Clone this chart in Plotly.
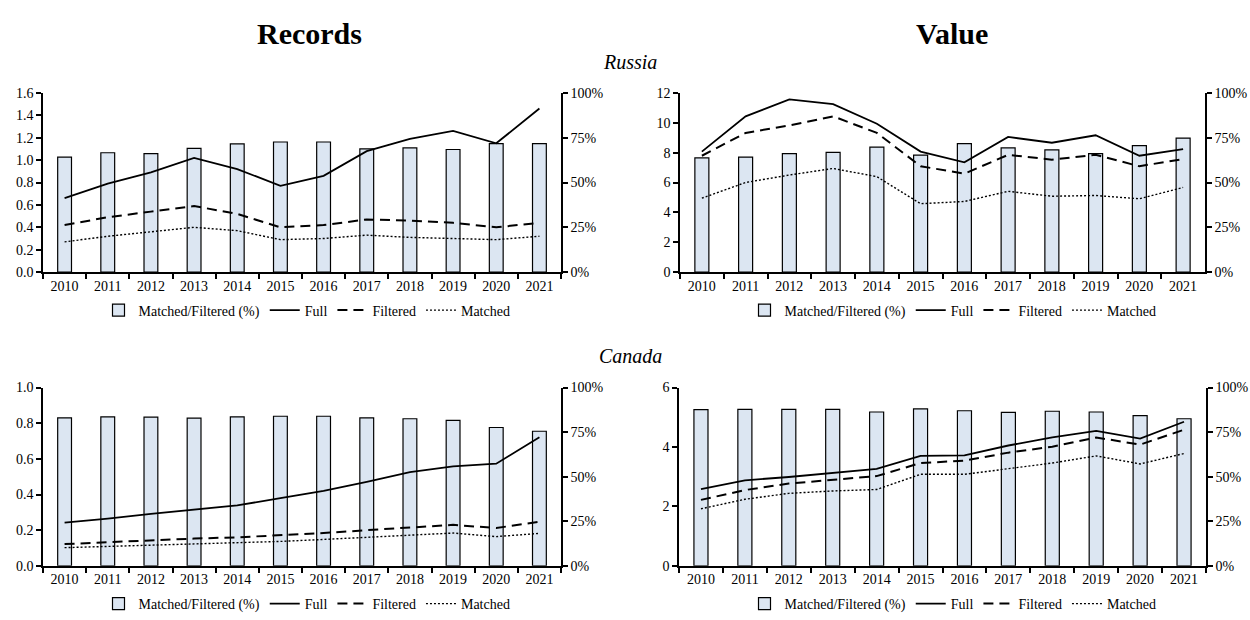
import plotly.graph_objects as go

# ---- data -------------------------------------------------------------
years = [str(y) for y in range(2010, 2022)]

# Russia – number of records (millions)
rus_rec_full = [0.66, 0.79, 0.89, 1.02, 0.92, 0.77, 0.86, 1.08, 1.19, 1.26, 1.15, 1.46]
rus_rec_filtered = [0.42, 0.49, 0.54, 0.59, 0.52, 0.40, 0.42, 0.47, 0.46, 0.44, 0.40, 0.44]
rus_rec_matched = [0.27, 0.32, 0.36, 0.40, 0.37, 0.29, 0.30, 0.33, 0.31, 0.30, 0.29, 0.32]
rus_rec_share = [0.641, 0.666, 0.661, 0.690, 0.715, 0.726, 0.726, 0.688, 0.693, 0.684, 0.717, 0.717]

# Russia – value
rus_val_full = [8.07, 10.43, 11.56, 11.24, 9.93, 8.07, 7.35, 9.05, 8.66, 9.16, 7.79, 8.23]
rus_val_filtered = [7.79, 9.32, 9.82, 10.43, 9.32, 7.09, 6.59, 7.85, 7.53, 7.85, 7.09, 7.57]
rus_val_matched = [4.95, 6.00, 6.50, 6.94, 6.39, 4.58, 4.73, 5.41, 5.08, 5.13, 4.91, 5.67]
rus_val_share = [0.637, 0.642, 0.661, 0.668, 0.697, 0.653, 0.717, 0.693, 0.682, 0.661, 0.706, 0.748]

# Canada – number of records (millions)
can_rec_full = [0.243, 0.265, 0.292, 0.316, 0.339, 0.380, 0.420, 0.471, 0.526, 0.558, 0.573, 0.721]
can_rec_filtered = [0.122, 0.133, 0.142, 0.153, 0.160, 0.170, 0.184, 0.200, 0.215, 0.230, 0.212, 0.248]
can_rec_matched = [0.102, 0.109, 0.115, 0.120, 0.128, 0.137, 0.148, 0.161, 0.175, 0.184, 0.164, 0.182]
can_rec_share = [0.830, 0.836, 0.834, 0.828, 0.836, 0.839, 0.839, 0.830, 0.825, 0.816, 0.776, 0.755]

# Canada – value
can_val_full = [2.58, 2.88, 2.99, 3.12, 3.26, 3.70, 3.72, 4.05, 4.32, 4.54, 4.28, 4.85]
can_val_filtered = [2.22, 2.55, 2.77, 2.90, 3.02, 3.46, 3.54, 3.81, 4.01, 4.32, 4.08, 4.58]
can_val_matched = [1.92, 2.24, 2.44, 2.52, 2.57, 3.08, 3.08, 3.26, 3.46, 3.70, 3.43, 3.78]
can_val_share = [0.876, 0.878, 0.878, 0.878, 0.863, 0.880, 0.870, 0.861, 0.867, 0.863, 0.843, 0.825]

# left-axis settings per panel: (max, step, format)
rus_rec_axis = (1.6, 0.2, ".1f")
rus_val_axis = (12, 2, "d")
can_rec_axis = (1.0, 0.2, ".1f")
can_val_axis = (6, 2, "d")

share_label = "Matched/Filtered (%)"
line_names = ["Full", "Filtered", "Matched"]

# ---- layout geometry (pixels) ----------------------------------------
W, H = 1250, 620
FONT = "Liberation Serif"
BAR_FILL = "#dce6f2"


def px_x(v):
    return v / W


def px_y(v):
    return 1 - v / H


panels = [
    dict(full=rus_rec_full, filt=rus_rec_filtered, match=rus_rec_matched,
         share=rus_rec_share, axis=rus_rec_axis,
         xdom=(43, 561), ydom=(88, 271.7), legend_xy=(307, 311)),
    dict(full=rus_val_full, filt=rus_val_filtered, match=rus_val_matched,
         share=rus_val_share, axis=rus_val_axis,
         xdom=(680, 1205), ydom=(88, 271.7), legend_xy=(953, 311)),
    dict(full=can_rec_full, filt=can_rec_filtered, match=can_rec_matched,
         share=can_rec_share, axis=can_rec_axis,
         xdom=(43, 561), ydom=(390, 572.7), legend_xy=(307, 612)),
    dict(full=can_val_full, filt=can_val_filtered, match=can_val_matched,
         share=can_val_share, axis=can_val_axis,
         xdom=(679, 1206), ydom=(390, 572.7), legend_xy=(953, 612)),
]

fig = go.Figure()
layout = {}
n = len(years)
cat_range = [-0.5, n - 0.5]
boundaries = [i + 0.5 for i in range(n - 1)]

axis_font = dict(family=FONT, size=14, color="black")
common_axis = dict(showgrid=False, zeroline=False, showline=True,
                   linecolor="black", linewidth=1.5, tickcolor="black",
                   tickwidth=1.5, tickfont=axis_font, fixedrange=True)


def key(prefix, idx):
    return prefix if idx == 1 else f"{prefix}{idx}"


for p, cfg in enumerate(panels, start=1):
    xa = key("xaxis", p)
    xref = key("x", p)
    ya_share = key("yaxis", p)
    yref_share = key("y", p)
    ya_val = key("yaxis", p + 4)
    yref_val = key("y", p + 4)
    legend_name = key("legend", p)

    xdom = [px_x(cfg["xdom"][0]), px_x(cfg["xdom"][1])]
    ydom = [px_y(cfg["ydom"][1]), px_y(cfg["ydom"][0])]
    vmax, vstep, vfmt = cfg["axis"]

    # bars: matched / filtered share on the right-hand percentage axis
    fig.add_trace(go.Bar(
        x=years, y=cfg["share"], name=share_label, width=0.32,
        marker=dict(color=BAR_FILL, line=dict(color="black", width=1.2)),
        xaxis=xref, yaxis=yref_share, legend=legend_name, hoverinfo="skip",
    ))
    # lines on the left-hand value axis
    styles = [("solid", 1.8), ("10px,6px", 2.0), ("2px,2px", 1.4)]
    for name, series, (dash, lw) in zip(line_names,
                                         [cfg["full"], cfg["filt"], cfg["match"]],
                                         styles):
        fig.add_trace(go.Scatter(
            x=years, y=series, name=name, mode="lines",
            line=dict(color="black", width=lw, dash=dash),
            xaxis=xref, yaxis=yref_val, legend=legend_name, hoverinfo="skip",
        ))

    layout[xa] = dict(common_axis, domain=xdom, anchor=yref_share,
                      type="category", range=cat_range, ticks="outside",
                      ticklen=5, tickson="boundaries")
    layout[ya_share] = dict(common_axis, domain=ydom, anchor=xref, side="right",
                            range=[0, 1], dtick=0.25, tick0=0, tickformat=".0%",
                            ticks="outside", ticklen=5)
    layout[ya_val] = dict(common_axis, anchor=xref, overlaying=yref_share,
                          side="left", range=[0, vmax], dtick=vstep, tick0=0,
                          tickformat=vfmt, ticks="outside", ticklen=5)

    # inward halves of the crossing tick marks
    layout[key("yaxis", p + 8)] = dict(
        anchor=xref, overlaying=yref_share, side="left", range=[0, vmax],
        dtick=vstep, tick0=0, ticks="inside", ticklen=4, tickwidth=1.5,
        tickcolor="black", showticklabels=False, showline=False,
        showgrid=False, zeroline=False, fixedrange=True)
    layout[key("yaxis", p + 12)] = dict(
        anchor=xref, overlaying=yref_share, side="right", range=[0, 1],
        dtick=0.25, tick0=0, ticks="inside", ticklen=4, tickwidth=1.5,
        tickcolor="black", showticklabels=False, showline=False,
        showgrid=False, zeroline=False, fixedrange=True)
    layout[key("xaxis", p + 4)] = dict(
        anchor=yref_share, overlaying=xref, side="bottom", type="linear",
        range=cat_range, tickvals=boundaries, ticks="inside", ticklen=4,
        tickwidth=1.5, tickcolor="black", showticklabels=False,
        showline=False, showgrid=False, zeroline=False, fixedrange=True)

    lx, ly = cfg["legend_xy"]
    layout[legend_name] = dict(
        orientation="h", x=px_x(lx), y=px_y(ly), xanchor="center",
        yanchor="middle", font=dict(family=FONT, size=14, color="black"),
        bgcolor="rgba(0,0,0,0)", traceorder="normal", itemwidth=30,
        tracegroupgap=0,
    )

annotations = [
    dict(text="<b>Records</b>", x=px_x(309), y=px_y(27), size=30),
    dict(text="<b>Value</b>", x=px_x(952), y=px_y(27), size=30),
    dict(text="<i>Russia</i>", x=px_x(630), y=px_y(56), size=20),
    dict(text="<i>Canada</i>", x=px_x(630), y=px_y(358), size=20),
]
layout["annotations"] = [
    dict(text=a["text"], x=a["x"], y=a["y"], xref="paper", yref="paper",
         xanchor="center", yanchor="middle", showarrow=False,
         font=dict(family=FONT, size=a["size"], color="black"))
    for a in annotations
]

fig.update_layout(
    width=W, height=H, autosize=False,
    margin=dict(l=0, r=0, t=0, b=0),
    paper_bgcolor="white", plot_bgcolor="white",
    font=dict(family=FONT, color="black"),
    barmode="overlay", showlegend=True,
    **layout,
)

fig.write_html("out.html", config={"displayModeBar": False})
